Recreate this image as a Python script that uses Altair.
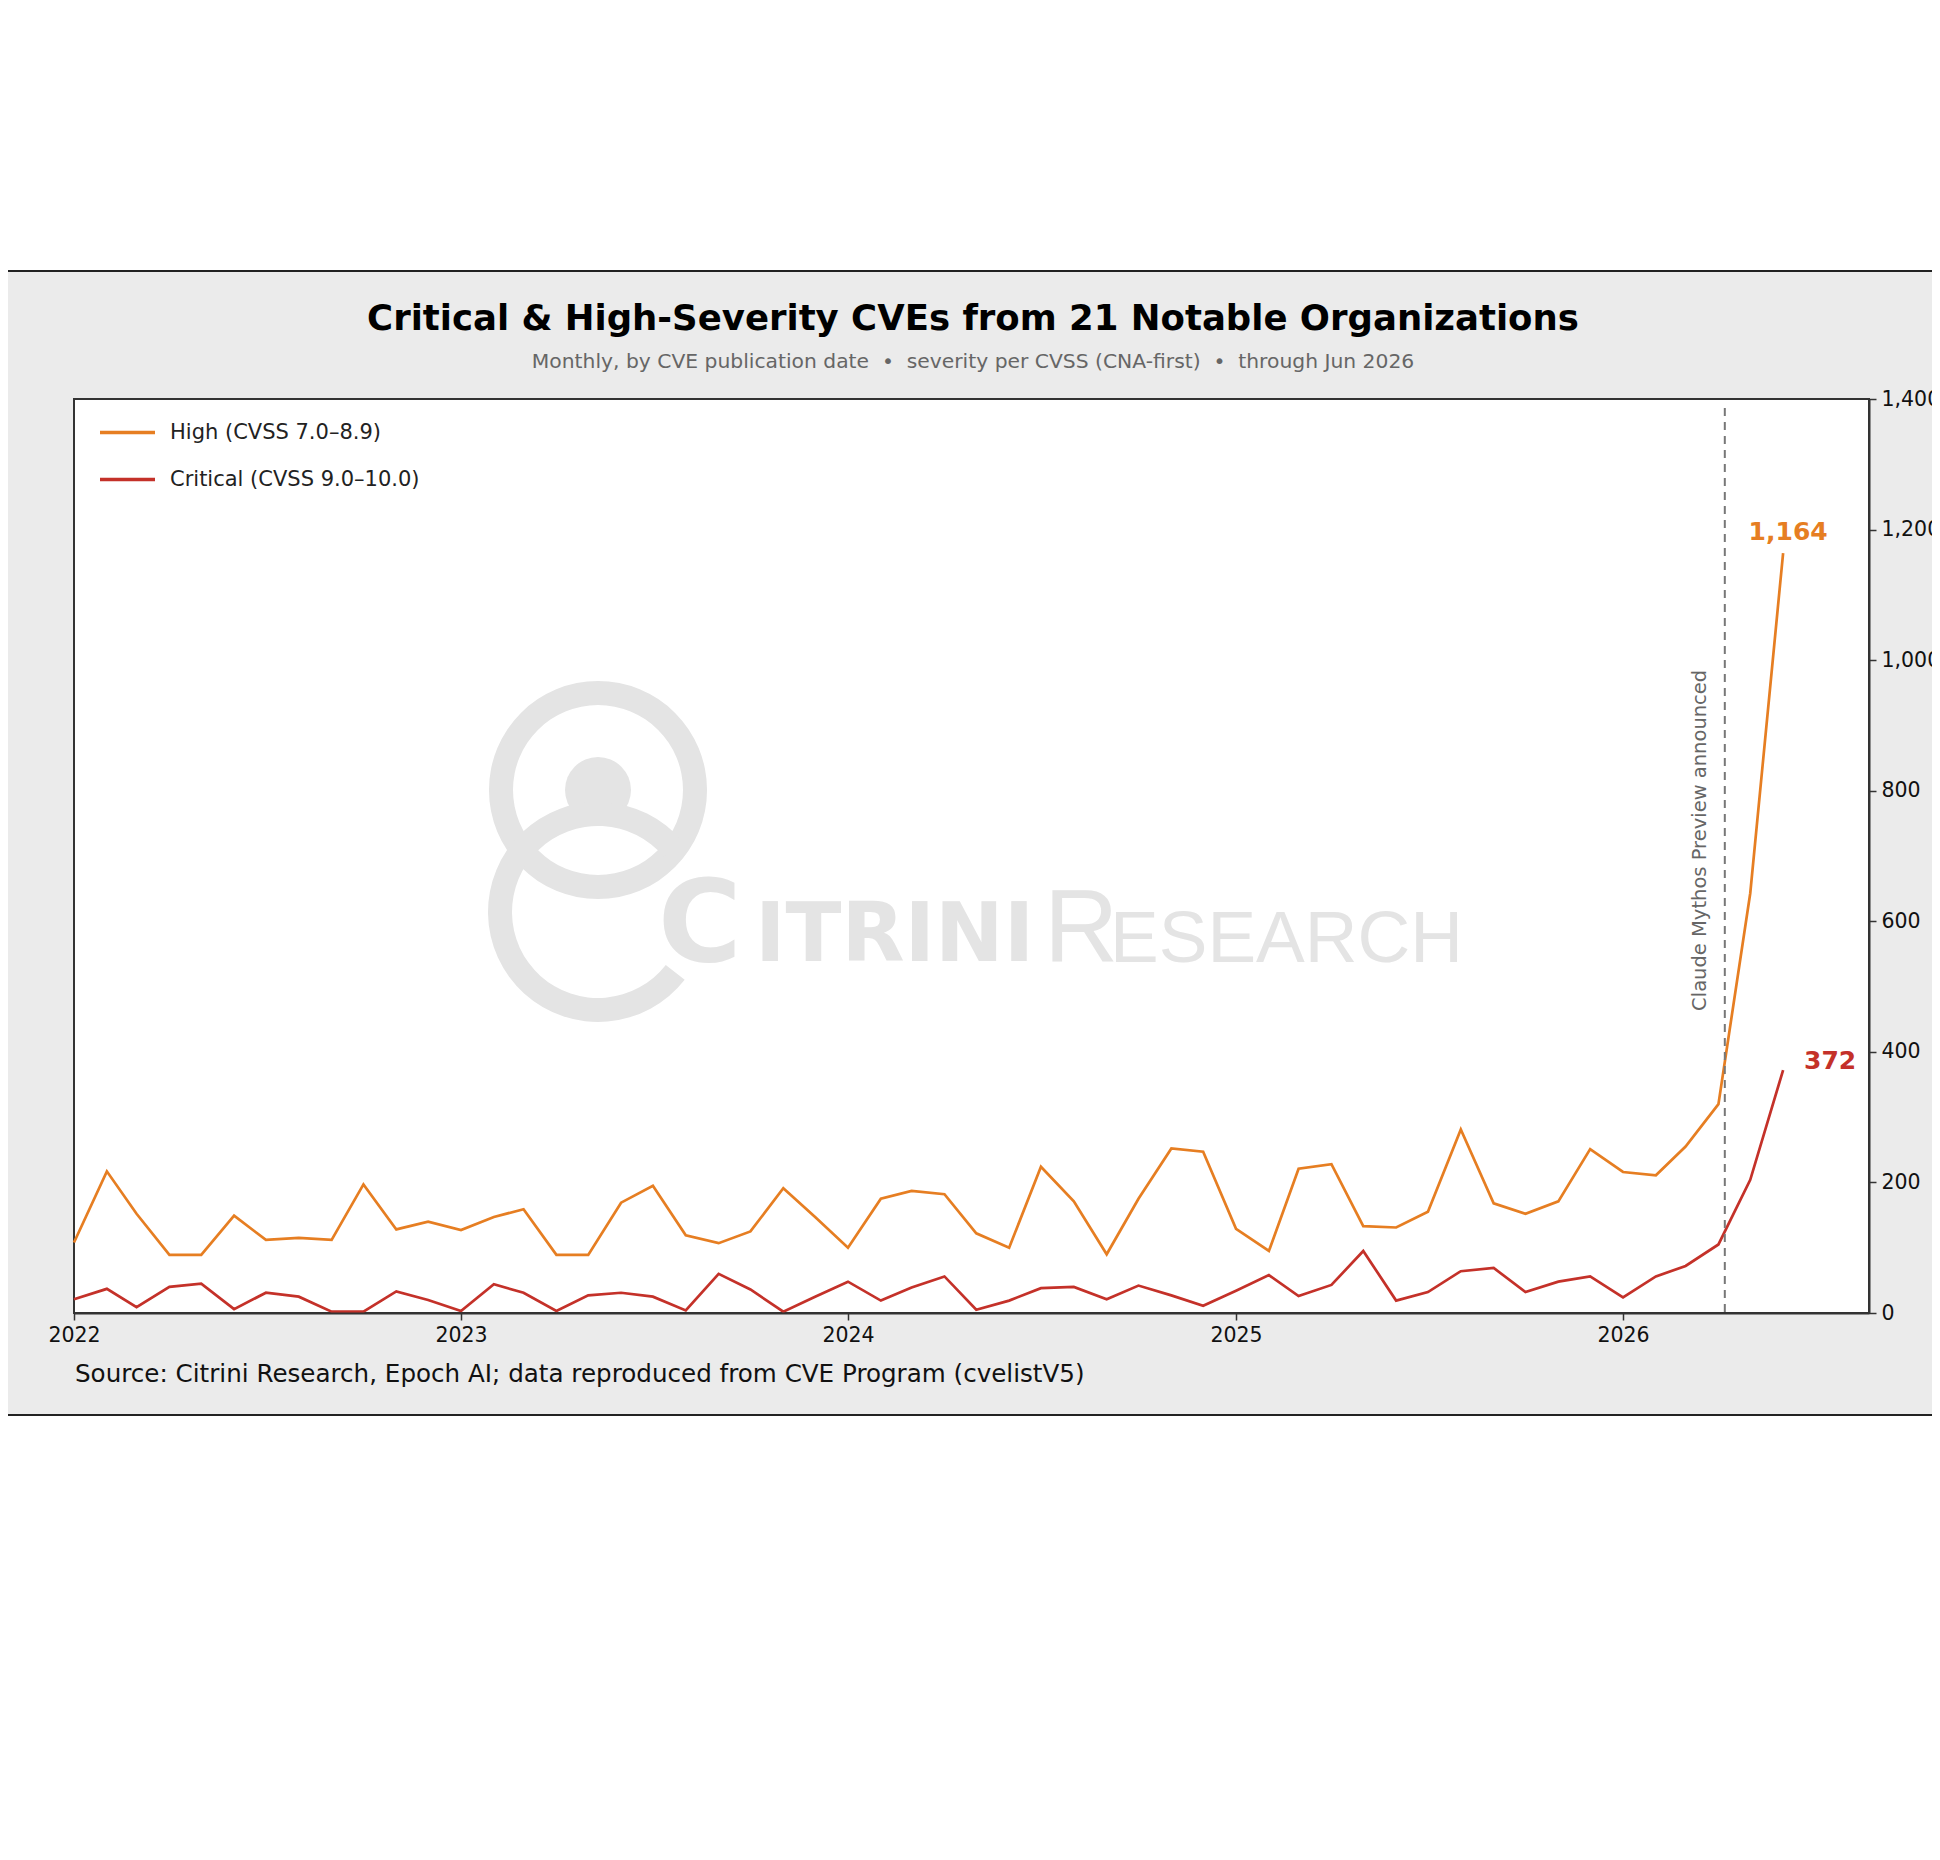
import altair as alt
import pandas as pd

# ---------------- data ----------------
months = pd.date_range("2022-01-01", "2026-06-01", freq="MS").strftime("%Y-%m-%d").tolist()

high = [108, 217, 152, 89, 89, 149, 112, 115, 112, 197, 128, 140,
        127, 147, 159, 89, 89, 169, 195, 119, 107, 125, 191, 147,
        100, 175, 187, 182, 122, 100, 224, 171, 90, 175, 252, 247,
        129, 95, 221, 228, 133, 131, 155, 281, 168, 152, 171, 251,
        216, 211, 255, 320, 643, 1164]

critical = [21, 37, 9, 40, 45, 6, 31, 25, 2, 2, 33, 20,
            3, 44, 31, 3, 27, 31, 25, 4, 60, 36, 2, 25,
            48, 19, 39, 56, 5, 19, 38, 40, 21, 42, 27, 11,
            34, 58, 26, 43, 95, 19, 32, 64, 69, 32, 48, 56,
            24, 56, 72, 105, 204, 372]

HIGH_LABEL = "High (CVSS 7.0–8.9)"
CRIT_LABEL = "Critical (CVSS 9.0–10.0)"
series_names = [HIGH_LABEL, CRIT_LABEL]
y_ticks = [0, 200, 400, 600, 800, 1000, 1200, 1400]
x_years = [2022, 2023, 2024, 2025, 2026]
event_date = ["2026-04-07"]
event_label = ["Claude Mythos Preview announced"]

NB = "\u00a0"
TITLE = "Critical & High-Severity CVEs from 21 Notable Organizations"
SUBTITLE = ("Monthly, by CVE publication date" + NB * 2 + "•" + NB * 2 +
            "severity per CVSS (CNA-first)" + NB * 2 + "•" + NB * 2 + "through Jun 2026")
SOURCE = "Source: Citrini Research, Epoch AI; data reproduced from CVE Program (cvelistV5)"

# ---------------- style ----------------
ORANGE = "#e67e22"
RED = "#c43129"
BAND = "#ebebeb"
WM = "#e4e4e4"
AX = "#333333"
W, H = 1795, 914

df = pd.DataFrame({
    "date": months * 2,
    "count": high + critical,
    "series": [HIGH_LABEL] * len(high) + [CRIT_LABEL] * len(critical),
})

x_scale = alt.Scale(type="utc", domain=[alt.DateTime(year=2022, month=1, date=1, utc=True),
                                        alt.DateTime(year=2026, month=8, date=21, utc=True)])
y_scale = alt.Scale(domain=[0, 1400], nice=False)

x_axis = alt.Axis(values=[alt.DateTime(year=y, month=1, date=1, utc=True) for y in x_years],
                  format="%Y", labelFontSize=20.5, labelColor="#111", tickSize=7, tickWidth=1.5,
                  tickColor=AX, domainColor=AX, domainWidth=2, labelPadding=5, grid=False,
                  title=None, zindex=1, labelFlush=False)
y_axis = alt.Axis(orient="right", values=y_ticks, format=",d", labelFontSize=20.5, labelColor="#111",
                  tickSize=7, tickWidth=1.5, tickColor=AX, domainColor=AX, domainWidth=2,
                  labelPadding=5, grid=False, title=None, zindex=1)

x_enc = alt.X("date:T", scale=x_scale, axis=x_axis)

one = pd.DataFrame({"k": [0]})

band = alt.Chart(one).mark_rect(fill=BAND, stroke="#222", strokeWidth=2).encode(
    x=alt.value(-120), x2=alt.value(W + 200), y=alt.value(-128), y2=alt.value(1016))
panel = alt.Chart(one).mark_rect(fill="white", stroke=AX, strokeWidth=2).encode(
    x=alt.value(0), x2=alt.value(W), y=alt.value(0), y2=alt.value(H))

# watermark logo
ring = alt.Chart(one).mark_arc(color=WM).encode(
    x=alt.value(524), y=alt.value(391), theta=alt.value(0), theta2=alt.value(6.2832),
    radius=alt.value(109), radius2=alt.value(85))
head = alt.Chart(one).mark_arc(color=WM).encode(
    x=alt.value(524), y=alt.value(391), theta=alt.value(0), theta2=alt.value(6.2832),
    radius=alt.value(33))
lower = alt.Chart(one).mark_arc(color=WM).encode(
    x=alt.value(524), y=alt.value(513), theta=alt.value(2.234), theta2=alt.value(7.156),
    radius=alt.value(110), radius2=alt.value(86))

def wm_text(txt, x, y, size, weight, font):
    return alt.Chart(one).mark_text(align="left", baseline="alphabetic", fontSize=size,
                                    fontWeight=weight, font=font, color=WM).encode(
        x=alt.value(x), y=alt.value(y), text=alt.value(txt))

wm_c = wm_text("C", 584, 562, 114, "bold", "DejaVu Sans")
wm_itrini = wm_text("ITRINI", 681, 562, 82, "bold", "DejaVu Sans")
wm_r = wm_text("R", 970, 563, 103, "normal", "Liberation Sans")
wm_esearch = wm_text("ESEARCH", 1036, 563, 73, "normal", "Liberation Sans")

lines = alt.Chart(df).mark_line(strokeWidth=2.7).encode(
    x=x_enc,
    y=alt.Y("count:Q", scale=y_scale, axis=y_axis),
    color=alt.Color("series:N",
                    scale=alt.Scale(domain=series_names, range=[ORANGE, RED]),
                    legend=alt.Legend(title=None, orient="none", legendX=24, legendY=4,
                                      symbolType="stroke", symbolSize=3025, symbolStrokeWidth=3.5,
                                      labelFontSize=21, labelColor="#222", labelOffset=13,
                                      rowPadding=7, padding=0, labelLimit=500)),
)

event = pd.DataFrame({"date": event_date, "label": event_label, "ypos": [724]})
rule = alt.Chart(event).mark_rule(color="#777", strokeWidth=2, strokeDash=[8, 6]).encode(
    x=x_enc, y=alt.value(9), y2=alt.value(H))
vtext = alt.Chart(event).mark_text(angle=270, align="center", baseline="middle", dy=-25,
                                   fontSize=19.5, color="#666").encode(
    x=x_enc, y=alt.Y("ypos:Q", scale=y_scale, axis=y_axis), text="label:N")

end_high = pd.DataFrame({"date": [months[-1]], "count": [high[-1]], "label": [f"{high[-1]:,}"]})
end_crit = pd.DataFrame({"date": [months[-1]], "count": [critical[-1]], "label": [f"{critical[-1]:,}"]})
lab_high = alt.Chart(end_high).mark_text(fontSize=25, fontWeight="bold", color=ORANGE,
                                         align="center", baseline="middle", dx=5, dy=-21).encode(
    x=x_enc, y=alt.Y("count:Q", scale=y_scale, axis=y_axis), text="label:N")
lab_crit = alt.Chart(end_crit).mark_text(fontSize=25, fontWeight="bold", color=RED,
                                         align="center", baseline="middle", dx=47, dy=-9).encode(
    x=x_enc, y=alt.Y("count:Q", scale=y_scale, axis=y_axis), text="label:N")

title = alt.Chart(one).mark_text(fontSize=35.5, fontWeight="bold", color="#000",
                                 align="center", baseline="middle").encode(
    x=alt.value(899), y=alt.value(-80.5), text=alt.value(TITLE))
subtitle = alt.Chart(one).mark_text(fontSize=20.3, color="#666", align="center", baseline="middle").encode(
    x=alt.value(899), y=alt.value(-37), text=alt.value(SUBTITLE))
source = alt.Chart(one).mark_text(fontSize=24.6, color="#111", align="left", baseline="middle").encode(
    x=alt.value(1), y=alt.value(976), text=alt.value(SOURCE))

chart = alt.layer(
    band, panel, ring, head, lower, wm_c, wm_itrini, wm_r, wm_esearch,
    lines, rule, vtext, lab_high, lab_crit, title, subtitle, source
).properties(
    width=W, height=H,
    padding={"left": 66, "top": 391, "right": 63, "bottom": 110},
    autosize=alt.AutoSizeParams(type="none"),
).configure_view(strokeWidth=0).configure(font="DejaVu Sans", background="white")

chart.save("out.html", embed_options={"renderer": "svg", "actions": False})
